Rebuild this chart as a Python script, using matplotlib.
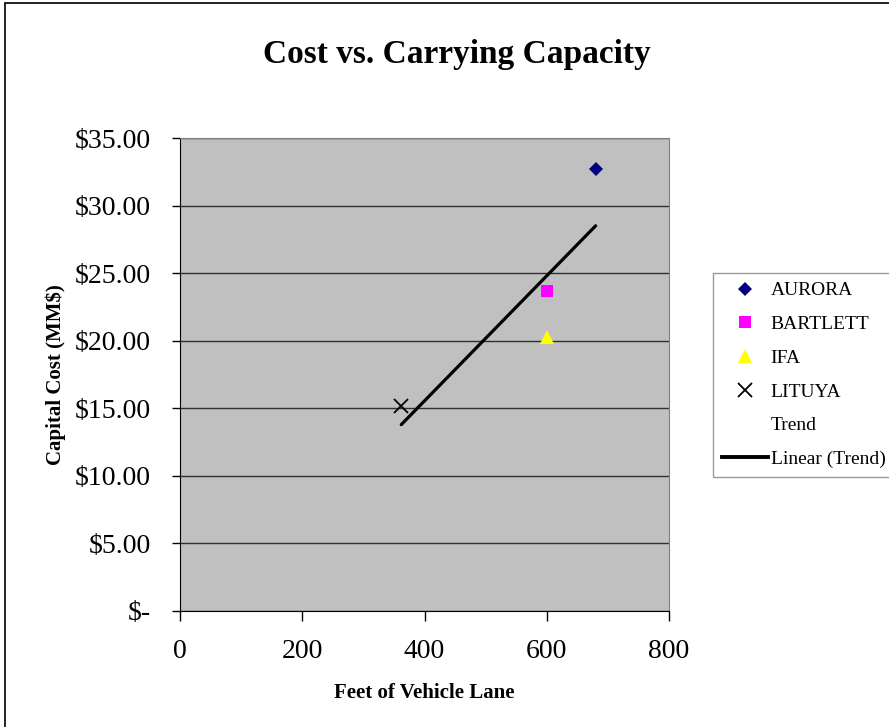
import numpy as np
import matplotlib.pyplot as plt
from matplotlib.lines import Line2D
from matplotlib.patches import Rectangle

# vessels: lane length vs capital cost
names = ['AURORA', 'BARTLETT', 'IFA', 'LITUYA']
lane_ft = [680, 600, 600, 362]
cost_mm = [32.7, 23.7, 20.3, 15.2]
markers = ['D', 's', '^', 'x']
colors = ['#000080', '#FF00FF', '#FFFF00', '#000000']
sizes = [7.5, 8, 9.5, 9.5]

yticks = [0, 5, 10, 15, 20, 25, 30, 35]
ytick_labels = ['$-', '$5.00', '$10.00', '$15.00', '$20.00', '$25.00', '$30.00', '$35.00']
xticks = [0, 200, 400, 600, 800]

plt.rcParams['font.family'] = ['Liberation Serif', 'DejaVu Serif']

fig = plt.figure(figsize=(8.89, 7.27), dpi=100)
fig.patches.append(Rectangle((5/889, -0.1), 1.1, 1.1 - 3/727, transform=fig.transFigure,
                             fill=False, edgecolor='black', linewidth=1.2))
ax = fig.add_axes([180/889, 1-611/727, 489/889, 473/727])
ax.set_facecolor('#C0C0C0')

for i in range(len(names)):
    ax.plot(lane_ft[i], cost_mm[i], linestyle='none', marker=markers[i], color=colors[i],
            markersize=sizes[i], markeredgewidth=1.3 if markers[i] == 'x' else 0, label=names[i], zorder=3)

# linear trend through all points
k, b = np.polyfit(lane_ft, cost_mm, 1)
xs = np.array([min(lane_ft), max(lane_ft)])
ax.plot(xs, k*xs + b, color='black', linewidth=2.3, solid_capstyle='round', zorder=2)

ax.set_xlim(0, 800)
ax.set_ylim(0, 35)
ax.set_xticks(xticks)
ax.set_yticks(yticks)
ax.set_yticklabels(ytick_labels)
ax.tick_params(labelsize=20, direction='out', width=1)
ax.tick_params(axis='y', pad=15, length=6)
ax.tick_params(axis='x', pad=13, length=7)
ax.grid(axis='y', color='#303030', linewidth=1)
ax.set_axisbelow(True)
for s in ['top', 'right']:
    ax.spines[s].set_color('#808080')
for s in ['left', 'bottom']:
    ax.spines[s].set_color('black')

ax.set_xlabel('Feet of Vehicle Lane', fontsize=15, fontweight='bold', labelpad=14)
ax.set_ylabel('Capital Cost (MM$)', fontsize=15, fontweight='bold', labelpad=6)
fig.text(457/889, 1-54/727, 'Cost vs. Carrying Capacity', fontsize=24, fontweight='bold',
         ha='center', va='center')

handles = [Line2D([], [], linestyle='none', marker=markers[i], color=colors[i],
                  markersize=sizes[i], markeredgewidth=1.3 if markers[i] == 'x' else 0)
           for i in range(len(names))]
handles.append(Line2D([], [], linestyle='none'))
handles.append(Line2D([], [], color='black', linewidth=2.8))
labels = names + ['Trend', 'Linear (Trend)']
leg = fig.legend(handles, labels, loc='upper left', bbox_to_anchor=(713/889, 1-273/727),
                 borderaxespad=0, fontsize=14, frameon=True, fancybox=False, edgecolor='#808080',
                 handlelength=2.4, labelspacing=0.83, borderpad=0.45, handletextpad=0.12)
leg.get_frame().set_linewidth(1)

fig.savefig('out.png', dpi=100)
